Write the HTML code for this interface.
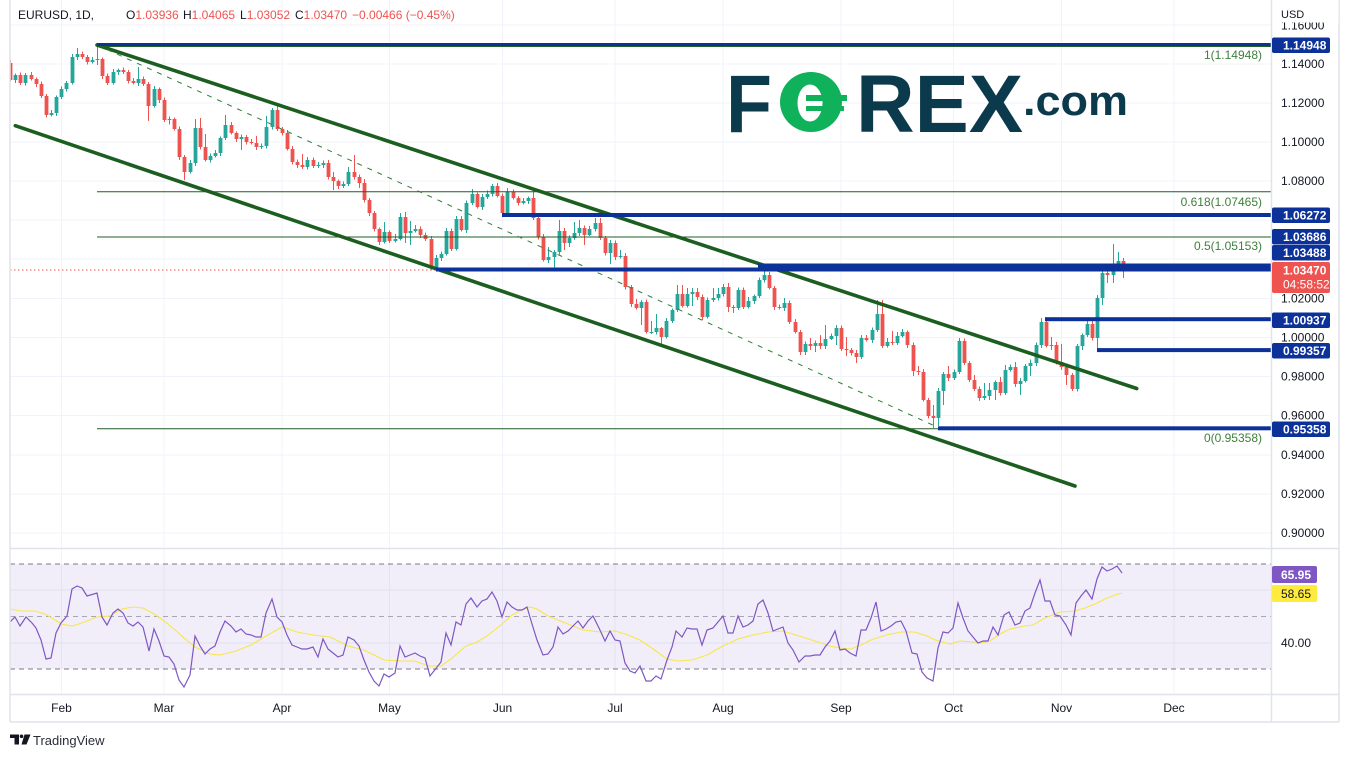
<!DOCTYPE html>
<html><head><meta charset="utf-8"><style>
html,body{margin:0;padding:0;background:#fff;}
svg{display:block;font-family:"Liberation Sans",sans-serif;}
</style></head><body>
<svg width="1349" height="757" viewBox="0 0 1349 757" xmlns="http://www.w3.org/2000/svg">
<defs>
<clipPath id="cp"><rect x="10" y="0" width="1261" height="548"/></clipPath>
<clipPath id="cr"><rect x="10" y="549" width="1261" height="145"/></clipPath>
</defs>
<rect width="1349" height="757" fill="#fff"/>
<g stroke="#f0f3fa" stroke-width="1">
<line x1="10" x2="1271" y1="25" y2="25"/><line x1="10" x2="1271" y1="64" y2="64"/><line x1="10" x2="1271" y1="103" y2="103"/><line x1="10" x2="1271" y1="142" y2="142"/><line x1="10" x2="1271" y1="181" y2="181"/><line x1="10" x2="1271" y1="220" y2="220"/><line x1="10" x2="1271" y1="259" y2="259"/><line x1="10" x2="1271" y1="298.5" y2="298.5"/><line x1="10" x2="1271" y1="337.5" y2="337.5"/><line x1="10" x2="1271" y1="376.5" y2="376.5"/><line x1="10" x2="1271" y1="415.5" y2="415.5"/><line x1="10" x2="1271" y1="455" y2="455"/><line x1="10" x2="1271" y1="494" y2="494"/><line x1="10" x2="1271" y1="533" y2="533"/>
</g>
<g stroke="#f0f3fa" stroke-width="1">
<line x1="61.5" x2="61.5" y1="0" y2="694"/><line x1="164" x2="164" y1="0" y2="694"/><line x1="282" x2="282" y1="0" y2="694"/><line x1="389.5" x2="389.5" y1="0" y2="694"/><line x1="502.5" x2="502.5" y1="0" y2="694"/><line x1="615" x2="615" y1="0" y2="694"/><line x1="723" x2="723" y1="0" y2="694"/><line x1="841" x2="841" y1="0" y2="694"/><line x1="953.5" x2="953.5" y1="0" y2="694"/><line x1="1061.5" x2="1061.5" y1="0" y2="694"/><line x1="1174" x2="1174" y1="0" y2="694"/>
</g>
<!-- RSI pane -->
<rect x="10" y="564" width="1261" height="105" fill="#7e57c2" fill-opacity="0.1"/>
<line x1="10" x2="1271" y1="590" y2="590" stroke="#e3e0ee"/>
<line x1="10" x2="1271" y1="643" y2="643" stroke="#e3e0ee"/>
<line x1="10" x2="1271" y1="564" y2="564" stroke="#787b86" stroke-dasharray="5,4"/>
<line x1="10" x2="1271" y1="616.5" y2="616.5" stroke="#a8a6b4" stroke-dasharray="5,4"/>
<line x1="10" x2="1271" y1="669" y2="669" stroke="#787b86" stroke-dasharray="5,4"/>
<g clip-path="url(#cr)" fill="none">
<polyline stroke="#f7e64a" stroke-width="1.1" points="10,609 20,611 35,611 45,614 55,620 61,624 72,626 82,623 97,617 110,616 122,609 133,607 143,608 154,614 164,621 174,629 184,638 195,647 210,654 220,655 236,651 251,645 266,636 282,627 297,632 313,635 330,637 348,646 364,650 384,660 400,661 415,661 420,663 430,666 441,666 451,659 466,646 477,642 487,636 502,624 512,615 522,610 530,607 537,609 548,616 558,620 568,624 583,630 600,632 615,631 625,634 640,640 656,651 667,659 678,661 692,660 707,655 723,646 738,639 753,635 768,632 783,631 799,636 815,641 830,646 840,648 851,649 861,645 871,640 886,635 901,632 915,632 927,636 935,640 950,644 960,641 975,642 980,643 990,641 1000,634 1010,629 1025,626 1033,625 1045,618 1060,612 1075,611 1085,608 1095,604 1105,599 1115,595 1122,593"/>
<polyline stroke="#7e57c2" stroke-width="1.2" points="10,622 15,617 20,626 26,617 32,623 36,628 41,640 46,659 51,658 56,633 61,623 67,616 72,589 77,586 82,588 87,596 97,593 102,617 107,625 113,613 118,609 123,613 128,623 133,626 138,622 143,627 149,651 154,629 159,641 164,656 169,657 174,664 179,680 184,687 190,675 195,636 200,646 205,654 210,649 215,646 220,632 225,621 231,626 236,632 241,629 246,634 251,635 256,637 261,637 266,613 272,599 277,617 282,622 287,635 292,645 297,647 302,649 307,649 313,647 318,657 323,639 328,649 333,653 338,657 343,655 348,637 354,640 359,646 364,660 369,672 374,681 379,686 384,674 389,677 395,673 400,646 405,657 410,655 415,653 420,656 425,658 430,676 441,662 446,633 451,645 456,622 461,625 466,604 471,598 477,607 482,601 487,599 492,592 497,601 502,617 507,602 512,607 517,610 522,610 527,607 532,624 537,640 543,655 548,654 553,647 558,627 563,634 568,631 573,626 578,621 583,628 588,621 593,616 599,628 605,641 610,631 615,640 620,641 625,663 630,671 635,673 640,666 646,681 651,681 656,676 661,679 667,660 672,647 676,631 682,637 687,628 692,629 697,629 702,645 707,630 713,628 718,622 723,616 728,633 733,633 738,616 743,627 748,625 753,621 758,604 763,600 768,613 773,631 778,629 783,627 788,643 793,650 799,662 805,656 810,656 815,655 820,655 825,647 830,641 835,631 840,650 845,649 850,653 856,656 861,630 866,630 871,618 876,602 881,631 886,629 891,626 896,622 901,621 906,631 912,653 917,654 922,672 927,678 933,681 938,648 943,632 948,633 953,628 958,603 963,618 968,631 973,637 978,643 983,641 988,641 993,627 998,635 1004,615 1009,612 1015,625 1020,623 1025,611 1030,608 1035,593 1040,580 1045,601 1050,601 1055,615 1060,616 1066,625 1071,635 1076,603 1081,596 1086,590 1092,599 1097,579 1102,567 1107,571 1112,569 1117,566 1122,573"/>
</g>
<!-- price pane -->
<g clip-path="url(#cp)">
<line x1="10" x2="1271" y1="270" y2="270" stroke="#ef5350" stroke-width="1" stroke-dasharray="1.5,2.5"/>
<!-- candles green -->
<path fill="none" stroke="#26a69a" stroke-width="1" d="M15.5 73.5V83M25.5 73V85.5M51.5 110V116.5M56.5 95.5V116M61.5 86.5V99M66.5 81V91.5M72.5 54V84.5M77.5 48V60M92.5 57V63.5M97.5 45V65M113.5 69V84.5M118.5 68.5V75M138.5 67V86M154.5 86V107.5M169.5 116.5V124.5M190.5 160V173.5M195.5 119V166M210.5 153.5V162.5M215.5 150V157.5M220.5 136.5V156M225.5 115V140M241.5 134.5V150M261.5 143.5V149M266.5 116V148.5M272.5 108V129.5M307.5 157V169.5M318.5 162V168M323.5 160.5V168M343.5 181.5V188M348.5 167V186M384.5 222V243.5M395.5 234V242.5M400.5 213V240.5M410.5 221V245M415.5 225V232.5M436.5 255V269.5M441.5 251.5V261M446.5 228V255.5M456.5 216V250.5M466.5 200.5V233M472.5 189V205M482.5 194V210M487.5 190.5V199M492.5 184V196.5M507.5 188V215M523.5 198V204.5M528.5 196.5V204M548.5 247V263M554.5 250V268M559.5 220V254.5M569.5 235.5V247M574.5 222V240M579.5 220V236M589.5 226V236M595.5 218V231.5M610.5 240V264M620.5 250V258.5M641.5 300V325M651.5 321V334M656.5 314V334.5M666.5 318V338.5M672.5 308.5V323M677.5 285V312M687.5 288V307.5M692.5 288V306M707.5 297.5V318.5M713.5 288V302M718.5 288V300.5M723.5 284V296.5M738.5 287.5V310M748.5 297V308.5M754.5 294.5V304M759.5 277.5V298M764.5 266V282.5M784.5 298V311M805.5 341.5V355M815.5 340.5V352M825.5 325V349M831.5 333.5V340M836.5 325V345M861.5 335V359M872.5 327.5V343M877.5 300V332M887.5 338V347.5M897.5 332V345M902.5 329V337.5M938.5 388V426M943.5 372V405M954.5 369.5V380M959.5 338V374M984.5 383V400M989.5 383V400M995.5 380.5V400M1005.5 365V395M1010.5 364.5V371.5M1020.5 378V395M1025.5 364V382.5M1030.5 359.5V376M1036.5 342.5V366M1041.5 318V348M1051.5 337V350M1077.5 344V391.5M1082.5 333.5V350M1087.5 320V337M1097.5 295V349M1102.5 271V305M1113.5 244V283M1118.5 252V270"/>
<path fill="none" stroke="#26a69a" stroke-width="3.8" d="M15.5 75V80M25.5 75V83M51.5 113V115M56.5 97V113M61.5 89V97M66.5 83V89M72.5 57V83M77.5 54V57M92.5 60V62M97.5 59V60M113.5 72V83M118.5 70V72M138.5 79V83M154.5 89V106M169.5 119V120M190.5 163V172M195.5 128V163M210.5 156V160M215.5 153V156M220.5 138V153M225.5 125V138M241.5 137V139M261.5 146V147M266.5 127V146M272.5 110V127M307.5 160V167M318.5 165V166M323.5 163V165M343.5 184V186M348.5 172V184M384.5 232V242M395.5 239V241M400.5 217V239M410.5 231V233M415.5 229V231M436.5 258V268M441.5 254V258M446.5 231V254M456.5 219V249M466.5 203V230M472.5 194V203M482.5 197V207M487.5 194V197M492.5 186V194M507.5 192V213M523.5 201V203M528.5 198V201M548.5 257V260M554.5 252V257M559.5 231V252M569.5 238V243M574.5 233V238M579.5 228V233M589.5 229V235M595.5 223V229M610.5 243V253M620.5 256V257M641.5 302V308M651.5 332V333M656.5 328V332M666.5 321V337M672.5 310V321M677.5 294V310M687.5 294V306M692.5 292V294M707.5 300V317M713.5 298V300M718.5 294V298M723.5 287V294M738.5 290V308M748.5 301V307M754.5 296V301M759.5 280V296M764.5 275V280M784.5 303V308M805.5 344V352M815.5 343V346M825.5 339V346M831.5 336V339M836.5 328V336M861.5 338V357M872.5 330V340M877.5 314V330M887.5 342V346M897.5 336V343M902.5 332V336M938.5 391V418M943.5 374V391M954.5 372V378M959.5 341V372M984.5 396V398M989.5 390V396M995.5 382V390M1005.5 370V393M1010.5 367V370M1020.5 381V384M1025.5 366V381M1030.5 363V366M1036.5 345V363M1041.5 322V345M1051.5 345V346M1077.5 346V389M1082.5 335V346M1087.5 324V335M1097.5 298V338M1102.5 273V298M1113.5 265V275M1118.5 261V265"/>
<!-- candles red -->
<path fill="none" stroke="#ef5350" stroke-width="1" d="M10.5 60V81.5M20.5 72.5V85M31.5 72V80.5M36.5 77.5V87M41.5 81.5V98M46.5 94V117.5M82.5 51.5V59M87.5 55V64.5M102.5 57.5V79M107.5 73.5V85M123.5 67.5V74M128.5 70V83.5M133.5 78V84.5M143.5 76.5V86M148.5 82V121M159.5 87.5V103M164.5 97.5V122M174.5 117.5V130.5M179.5 126.5V160M184.5 155V180M200.5 118V149.5M205.5 134V161.5M231.5 122V134.5M236.5 131.5V142M246.5 135V144.5M251.5 139V144.5M256.5 136V150M277.5 106V131M282.5 127V135.5M287.5 130V150.5M292.5 146V164.5M297.5 159.5V168M302.5 154V169M313.5 157.5V168M328.5 160V179.5M333.5 172V190M338.5 179.5V189M354.5 155V179.5M359.5 174.5V188M364.5 179V202.5M369.5 198V216M374.5 211V231.5M379.5 227.5V245M389.5 230.5V243M405.5 212V243M420.5 226.5V238M425.5 232.5V241M431.5 236V270M451.5 228.5V251M461.5 216V231.5M477.5 192.5V208.5M497.5 183V197.5M502.5 193.5V216M513.5 189.5V199.5M518.5 196V205.5M533.5 188V220M538.5 216V239.5M543.5 234V261.5M564.5 228V250M584.5 225.5V245M600.5 218V240M605.5 236V255.5M615.5 240.5V260M625.5 253V289.5M631.5 285V307M636.5 299V309.5M646.5 299.5V333.5M661.5 327V344M682.5 285V307.5M697.5 288V300M702.5 294.5V320M728.5 283V312M733.5 305V313M743.5 287.5V309M769.5 272V289.5M774.5 286V310M779.5 304.5V309.5M789.5 300.5V324M795.5 319V333.5M800.5 330V355M810.5 338V350M820.5 335V349M841.5 325.5V351M846.5 337V356M851.5 348V355.5M856.5 350V363M866.5 335V341.5M882.5 300V348M892.5 331V345M907.5 330.5V348M913.5 342.5V376M918.5 366V375M923.5 369V401.5M928.5 398V418.5M933.5 405V428M948.5 366V381M964.5 338.5V365M969.5 361V382M974.5 375V391M979.5 386.5V401M1000.5 377V395.5M1015.5 362V387M1046.5 319.5V347.5M1056.5 342V364.5M1061.5 344V370M1066.5 364.5V385M1072.5 373V391M1092.5 320V340.5M1107.5 268V283M1123.5 258V278"/>
<path fill="none" stroke="#ef5350" stroke-width="3.8" d="M10.5 63V80M20.5 75V83M31.5 75V79M36.5 79V84M41.5 84V96M46.5 96V115M82.5 54V57M87.5 57V62M102.5 59V76M107.5 76V83M123.5 70V72M128.5 72V81M133.5 81V83M143.5 79V84M148.5 84V106M159.5 89V100M164.5 100V120M174.5 119V129M179.5 129V157M184.5 157V172M200.5 128V147M205.5 147V160M231.5 125V133M236.5 133V139M246.5 137V142M251.5 142V143M256.5 143V147M277.5 110V129M282.5 129V133M287.5 133V149M292.5 149V162M297.5 162V165M302.5 165V167M313.5 160V166M328.5 163V177M333.5 177V181M338.5 181V186M354.5 172V177M359.5 177V183M364.5 183V200M369.5 200V213M374.5 213V229M379.5 229V242M389.5 232V241M405.5 217V233M420.5 229V235M425.5 235V239M431.5 239V268M451.5 231V249M461.5 219V230M477.5 194V207M497.5 186V196M502.5 196V213M513.5 192V198M518.5 198V203M533.5 198V218M538.5 218V237M543.5 237V260M564.5 231V243M584.5 228V235M600.5 223V238M605.5 238V253M615.5 243V257M625.5 256V287M631.5 287V304M636.5 304V308M646.5 302V332M661.5 328V337M682.5 294V306M697.5 292V297M702.5 297V317M728.5 287V307M733.5 307V308M743.5 290V307M769.5 275V288M774.5 288V307M779.5 307V308M789.5 303V322M795.5 322V332M800.5 332V352M810.5 344V346M820.5 343V346M841.5 328V349M846.5 349V350M851.5 350V353M856.5 353V357M866.5 338V340M882.5 314V346M892.5 342V343M907.5 332V345M913.5 345V371M918.5 371V372M923.5 372V400M928.5 400V416M933.5 416V418M948.5 374V378M964.5 341V363M969.5 363V380M974.5 380V389M979.5 389V398M1000.5 382V393M1015.5 367V384M1046.5 322V346M1056.5 345V362M1061.5 362V367M1066.5 367V375M1072.5 375V389M1092.5 324V338M1107.5 273V275M1123.5 261V270"/>
<!-- fib lines -->
<g stroke="#1e5f22" stroke-width="1">
<line x1="97" x2="1271" y1="191.7" y2="191.7"/>
<line x1="97" x2="1271" y1="237" y2="237"/>
<line x1="97" x2="1271" y1="428.8" y2="428.8"/>
</g>
<line x1="97" y1="45" x2="1136.7" y2="388.5" stroke="#1c5e20" stroke-width="3.6" stroke-linecap="round"/>
<line x1="15.3" y1="125.7" x2="1075" y2="486" stroke="#1c5e20" stroke-width="3.6" stroke-linecap="round"/>
<line x1="97" y1="45" x2="932.7" y2="425" stroke="#2e7d32" stroke-width="1" stroke-dasharray="5,6"/>
<g fill="#0c3299">
<rect x="97" y="43" width="1174" height="4"/>
<rect x="502" y="213" width="769" height="4"/>
<rect x="758" y="263.5" width="513" height="4"/>
<rect x="436" y="267.5" width="835" height="4"/>
<rect x="1045" y="317.2" width="226" height="4"/>
<rect x="1097" y="348.1" width="174" height="4"/>
<rect x="938" y="426.3" width="333" height="4"/>
</g>
<line x1="97" x2="1271" y1="46.5" y2="46.5" stroke="#1e5f22" stroke-width="1"/>
</g>
<g fill="#3f7f3c" font-size="12" text-anchor="end">
<text x="1262" y="59">1(1.14948)</text>
<text x="1262" y="206">0.618(1.07465)</text>
<text x="1262" y="250">0.5(1.05153)</text>
<text x="1262" y="442">0(0.95358)</text>
</g>
<!-- logo -->
<g>
<text x="726" y="132" font-size="82" font-weight="bold" fill="#0b3a4c" textLength="46" lengthAdjust="spacingAndGlyphs">F</text>
<ellipse cx="811" cy="102" rx="31" ry="30" fill="#0fb15a"/>
<ellipse cx="810" cy="103" rx="12.5" ry="18.5" fill="#fff"/>
<rect x="806" y="95" width="41" height="6" fill="#0fb15a"/>
<rect x="806" y="106" width="38" height="5" fill="#0fb15a"/>
<text x="856" y="132" font-size="82" font-weight="bold" fill="#0b3a4c" textLength="167" lengthAdjust="spacingAndGlyphs">REX</text>
<text x="1023" y="115" font-size="42" font-weight="bold" fill="#0b3a4c" textLength="105" lengthAdjust="spacingAndGlyphs">.com</text>
</g>
<g font-size="12" fill="#131722">
<text x="18" y="19">EURUSD, 1D,</text>
<text x="126" y="19">O<tspan fill="#ef5350">1.03936</tspan></text>
<text x="183" y="19">H<tspan fill="#ef5350">1.04065</tspan></text>
<text x="240" y="19">L<tspan fill="#ef5350">1.03052</tspan></text>
<text x="295" y="19">C<tspan fill="#ef5350">1.03470</tspan></text>
<text x="352" y="19" fill="#ef5350">−0.00466 (−0.45%)</text>
</g>
<g stroke="#e0e3eb" stroke-width="1.5" fill="none">
<line x1="10" x2="10" y1="0" y2="722"/>
<line x1="1271.5" x2="1271.5" y1="0" y2="722"/>
<line x1="1339" x2="1339" y1="0" y2="722"/>
<line x1="10" x2="1339" y1="722" y2="722"/>
<line x1="10" x2="1339" y1="548.5" y2="548.5"/>
<line x1="10" x2="1339" y1="694.5" y2="694.5"/>
</g>
<g font-size="12" fill="#131722">
<text x="1281" y="29.5">1.16000</text>
</g>
<rect x="1272.5" y="0" width="66" height="22.5" fill="#fff"/>
<g font-size="12" fill="#131722">
<text x="1281" y="18" font-size="11">USD</text>
<text x="1281" y="68">1.14000</text>
<text x="1281" y="107">1.12000</text>
<text x="1281" y="146">1.10000</text>
<text x="1281" y="185">1.08000</text>
<text x="1281" y="302.5">1.02000</text>
<text x="1281" y="341.5">1.00000</text>
<text x="1281" y="380.5">0.98000</text>
<text x="1281" y="419.5">0.96000</text>
<text x="1281" y="459">0.94000</text>
<text x="1281" y="498">0.92000</text>
<text x="1281" y="537">0.90000</text>
<text x="1281" y="647">40.00</text>
</g>
<g fill="#0c3299">
<rect x="1272" y="37.5" width="58" height="15.5" rx="2"/>
<rect x="1272" y="207.5" width="58" height="15.5" rx="2"/>
<rect x="1272" y="229" width="58" height="15.5" rx="2"/>
<rect x="1272" y="245" width="58" height="15.5" rx="2"/>
<rect x="1272" y="312.5" width="58" height="15.5" rx="2"/>
<rect x="1272" y="343" width="58" height="15.5" rx="2"/>
<rect x="1272" y="421.5" width="58" height="15.5" rx="2"/>
</g>
<rect x="1272" y="262" width="58" height="31" rx="2" fill="#ef5350"/>
<rect x="1272" y="566" width="45" height="17" rx="2" fill="#7e57c2"/>
<rect x="1272" y="585" width="45" height="17" rx="2" fill="#ffeb3b"/>
<g font-size="12" font-weight="bold" fill="#fff">
<text x="1283" y="49.5">1.14948</text>
<text x="1283" y="219.5">1.06272</text>
<text x="1283" y="241">1.03686</text>
<text x="1283" y="257">1.03488</text>
<text x="1283" y="274.5">1.03470</text>
<text x="1283" y="324.5">1.00937</text>
<text x="1283" y="355">0.99357</text>
<text x="1283" y="433.5">0.95358</text>
<text x="1281" y="579">65.95</text>
<text x="1281" y="598" fill="#131722" font-weight="normal">58.65</text>
</g>
<text x="1283" y="288.5" font-size="12" fill="#fff">04:58:52</text>
<g font-size="12" fill="#131722" text-anchor="middle">
<text x="61.5" y="712">Feb</text><text x="164" y="712">Mar</text><text x="282" y="712">Apr</text><text x="389.5" y="712">May</text><text x="502.5" y="712">Jun</text><text x="615" y="712">Jul</text><text x="723" y="712">Aug</text><text x="841" y="712">Sep</text><text x="953.5" y="712">Oct</text><text x="1061.5" y="712">Nov</text><text x="1174" y="712">Dec</text>
</g>
<g fill="#131722">
<rect x="10" y="734.5" width="9" height="3.5"/>
<rect x="14.5" y="734.5" width="4.5" height="10"/>
<circle cx="21.5" cy="736.3" r="1.8"/>
<polygon points="24.5,734.5 30.5,734.5 26.5,744.5 21.5,744.5"/>
</g>
<text x="33" y="745" font-size="13" fill="#2a2e39">TradingView</text>
</svg>
</body></html>
